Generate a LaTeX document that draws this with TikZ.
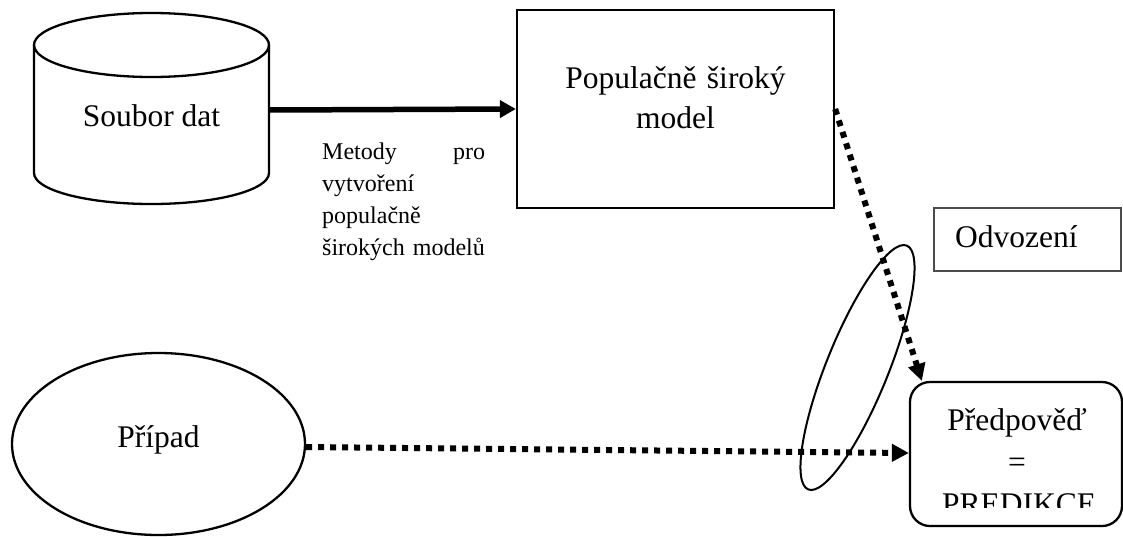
\documentclass[tikz,border=0pt]{standalone}
\usepackage{fontspec}
\setmainfont{Liberation Serif}
\usetikzlibrary{arrows.meta,shapes.geometric,calc}
\begin{document}
\begin{tikzpicture}[x=1pt,y=-1pt,
  outline/.style={draw=black,line width=2.3pt},
  bigtext/.style={font=\fontsize{31.5}{40}\selectfont,inner sep=0pt},
  smalltext/.style={font=\fontsize{24}{32}\selectfont,inner sep=0pt},
  solidarrow/.style={line width=5.5pt,-{Triangle[length=16pt,width=17pt]}},
  dotarrow/.style={line width=6pt,dash pattern=on 6pt off 6pt,
    -{Triangle[length=17pt,width=17pt]}}]
\useasboundingbox (0,0) rectangle (1123,536);

% database cylinder
\draw[outline] (151.5,45) ellipse[x radius=117.5,y radius=32];
\draw[outline] (34,45) -- (34,173)
  .. controls (34,190.1) and (86.6,204) .. (151.5,204)
  .. controls (216.4,204) and (269,190.1) .. (269,173) -- (269,45);
\node[minimum width=235pt,minimum height=128pt,inner sep=0pt] (data) at (151.5,110) {};
\node[bigtext,anchor=base] (datalabel) at (151.5,126) {Soubor dat};

% population-wide model
\node[outline,rectangle,minimum width=317pt,minimum height=198pt,inner sep=0pt]
  (model) at (675.5,109) {};
\node[bigtext,text width=300pt,align=center,anchor=base] (modellabel) at (675.5,88)
  {Populačně široký\\model};

% method caption under the main arrow
\node[smalltext,text width=163pt,align=left,anchor=base west] (methods) at (322,159)
  {\hbox to 163pt{Metody\hfill pro}\\vytvoření\\populačně\\širokých modelů};

% derivation label
\node[draw=black!70,line width=1.2pt,rectangle,minimum width=187pt,minimum height=63pt,
  inner sep=0pt] (derive) at (1027.5,239.5) {};
\node[bigtext,anchor=base west] (derivelabel) at (955,247) {Odvození};

% single case
\node[outline,ellipse,minimum width=293pt,minimum height=182pt,inner sep=0pt]
  (case) at (158.5,444) {};
\node[bigtext,anchor=base] (caselabel) at (158.5,447) {Případ};

% prediction box with clipped text
\node[outline,rectangle,rounded corners=20pt,minimum width=212pt,minimum height=144pt,
  inner sep=0pt] (pred) at (1016,454) {};
\begin{scope}
  \clip (910,382) rectangle (1122,507);
  \node[bigtext,anchor=base] (predlabel) at (1017,430) {Předpověď};
  \node[bigtext,anchor=base] (predeq) at (1017,472) {=};
  \node[bigtext,anchor=base] (predcaps) at (1019,514) {PREDIKCE};
\end{scope}

% inference lens
\node[draw=black,line width=2pt,ellipse,minimum width=263pt,minimum height=62pt,
  inner sep=0pt,rotate=68] (lens) at (857.5,367.5) {};

% connectors
\draw[solidarrow] (data.east) -- (model.west);
\draw[dotarrow] (model.east) -- ($(pred.north west)+(13,0)$);
\draw[dotarrow] ($(case.east)+(0,3)$) -- ($(pred.west)+(0,-1)$);
\end{tikzpicture}
\end{document}
